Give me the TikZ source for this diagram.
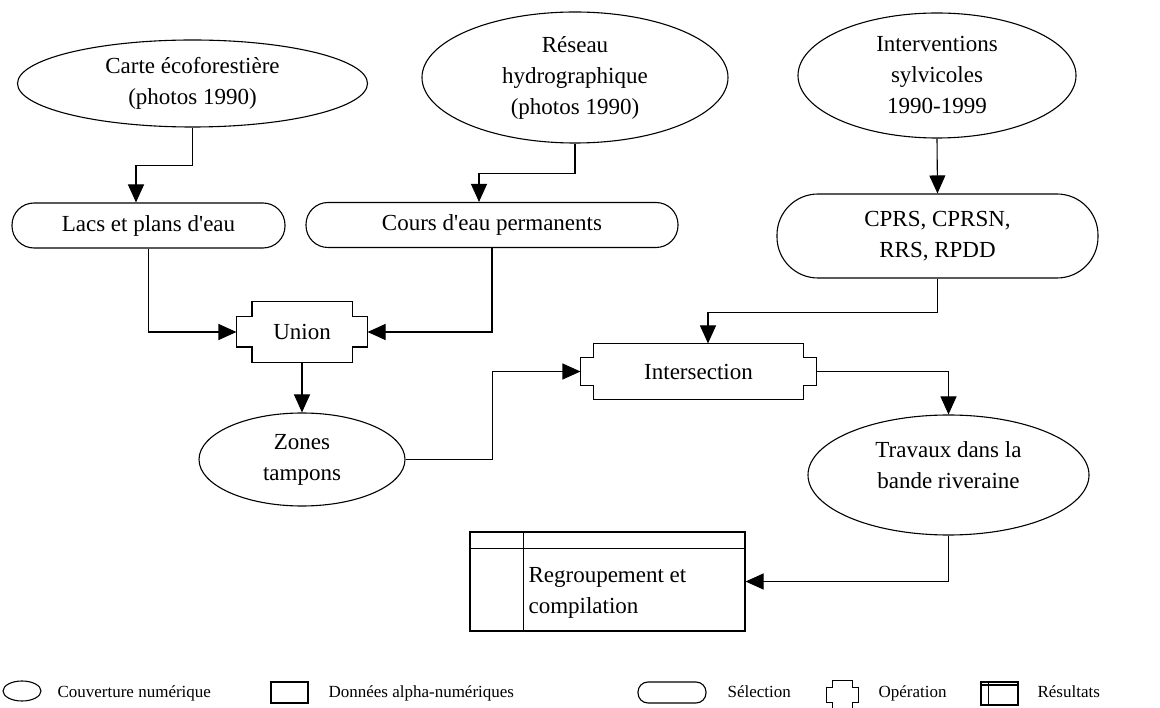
\documentclass[tikz,border=0pt]{standalone}
\usepackage{fontspec}
\setmainfont{Liberation Serif}[Ligatures=TeXOff]
\usetikzlibrary{arrows.meta,shapes.geometric,calc}

% outline of an "operation" box: rectangle with notched corners
\newcommand\opoutline[3]{%
  \draw[outl] ([xshift=#2pt]#1.north west) -- ([xshift=-#2pt]#1.north east)
    -- ([xshift=-#2pt,yshift=-#3pt]#1.north east) -- ([yshift=-#3pt]#1.north east)
    -- ([yshift=#3pt]#1.south east) -- ([xshift=-#2pt,yshift=#3pt]#1.south east)
    -- ([xshift=-#2pt]#1.south east) -- ([xshift=#2pt]#1.south west)
    -- ([xshift=#2pt,yshift=#3pt]#1.south west) -- ([yshift=#3pt]#1.south west)
    -- ([yshift=-#3pt]#1.north west) -- ([xshift=#2pt,yshift=-#3pt]#1.north west)
    -- cycle;}

\begin{document}
\begin{tikzpicture}[x=1pt,y=-1pt,
  line width=1.1pt,
  every node/.style={font=\fontsize{23}{31}\selectfont},
  outl/.style={draw, line width=1.1pt},
  ell/.style={ellipse, draw, inner sep=0pt, align=center},
  sel/.style={rectangle, draw, inner sep=0pt, align=center},
  opbox/.style={rectangle, inner sep=0pt},
  res/.style={rectangle, draw, inner sep=0pt},
  lg/.style={font=\fontsize{17}{20}\selectfont, anchor=base west, inner sep=0pt},
  arr/.style={-{Triangle[length=18pt,width=16pt]}}]
\useasboundingbox (0,0) rectangle (1160,708);

% ---- sources ----
\node[ell, minimum width=350pt, minimum height=87pt] (carte) at (192.5,83.5)
  {Carte écoforestière\\(photos 1990)};
\node[ell, minimum width=306pt, minimum height=131pt] (reseau) at (575,77.5)
  {Réseau\\hydrographique\\(photos 1990)};
\node[ell, minimum width=278pt, minimum height=125pt] (interv) at (937,75.5)
  {Interventions\\sylvicoles\\1990-1999};

% ---- selections ----
\node[sel, rounded corners=22pt, minimum width=273pt, minimum height=45pt] (lacs) at (148.5,225.5)
  {Lacs et plans d'eau};
\node[sel, rounded corners=22pt, minimum width=372pt, minimum height=45pt] (cours) at (492,225)
  {Cours d'eau permanents};
\node[sel, rounded corners=41pt, minimum width=321pt, minimum height=84pt] (cprs) at (937.5,236)
  {CPRS, CPRSN,\\RRS, RPDD};

% ---- operations ----
\node[opbox, minimum width=130pt, minimum height=60pt] (union) at (302,332) {Union};
\opoutline{union}{15.5}{15.5}
\node[opbox, minimum width=235pt, minimum height=55pt] (inter) at (698.5,371.5) {Intersection};
\opoutline{inter}{13}{14}

% ---- derived layers ----
\node[ell, minimum width=206pt, minimum height=93pt] (zones) at (302,459.5)
  {Zones\\tampons};
\node[ell, minimum width=281pt, minimum height=120pt] (trav) at (948.5,475) {};
\node[align=center, inner sep=0pt] (travtext) at (948.5,465) {Travaux dans la\\bande riveraine};

% ---- results ----
\node[res, minimum width=275pt, minimum height=99pt] (result) at (607.5,581.5) {};
\draw ([yshift=-17pt]result.north west) -- ([yshift=-17pt]result.north east);
\draw ([xshift=54pt]result.north west) -- ([xshift=54pt]result.south west);
\node[anchor=west, align=left, inner sep=0pt] (restext) at (528,593)
  {Regroupement et\\compilation};

% ---- connectors ----
\draw[arr] (carte.south) -- ++(0,38) -| ([xshift=-12.5pt]lacs.north);
\draw[arr] (reseau.south) -- ++(0,30) -| ([xshift=-13pt]cours.north);
\draw[arr] (interv.south) -- (cprs.north);
\draw[arr] (lacs.south) |- (union.west);
\draw[arr] (cours.south) |- (union.east);
\draw[arr] (union.south) -- (zones.north);
\draw[arr] (zones.east) -- ++(87,0) |- (inter.west);
\draw[arr] (cprs.south) -- ++(0,34) -| ([xshift=9.5pt]inter.north);
\draw[arr] (inter.east) -| (trav.north);
\draw[arr] (trav.south) |- (result.east);

% ---- legend ----
\node[ellipse, draw, inner sep=0pt, minimum width=38pt, minimum height=20pt] (lgell) at (22,691) {};
\node[lg] (lgelltext) at (57,697) {Couverture numérique};
\node[rectangle, draw, inner sep=0pt, minimum width=37pt, minimum height=21pt] (lgrect) at (289.5,692.5) {};
\node[lg] (lgrecttext) at (328,697) {Données alpha-numériques};
\node[rectangle, draw, rounded corners=10pt, inner sep=0pt, minimum width=68pt, minimum height=21pt] (lgsel) at (672,692.5) {};
\node[lg] (lgseltext) at (727,697) {Sélection};
\node[opbox, minimum width=31pt, minimum height=28pt] (lgop) at (842.5,695) {};
\opoutline{lgop}{6}{7}
\node[lg] (lgoptext) at (878,697) {Opération};
\node[res, minimum width=37pt, minimum height=23pt] (lgres) at (999.5,693.5) {};
\draw ([yshift=-3.5pt]lgres.north west) -- ([yshift=-3.5pt]lgres.north east);
\draw ([xshift=8pt]lgres.north west) -- ([xshift=8pt]lgres.south west);
\node[lg] (lgrestext) at (1037,697) {Résultats};
\end{tikzpicture}
\end{document}
